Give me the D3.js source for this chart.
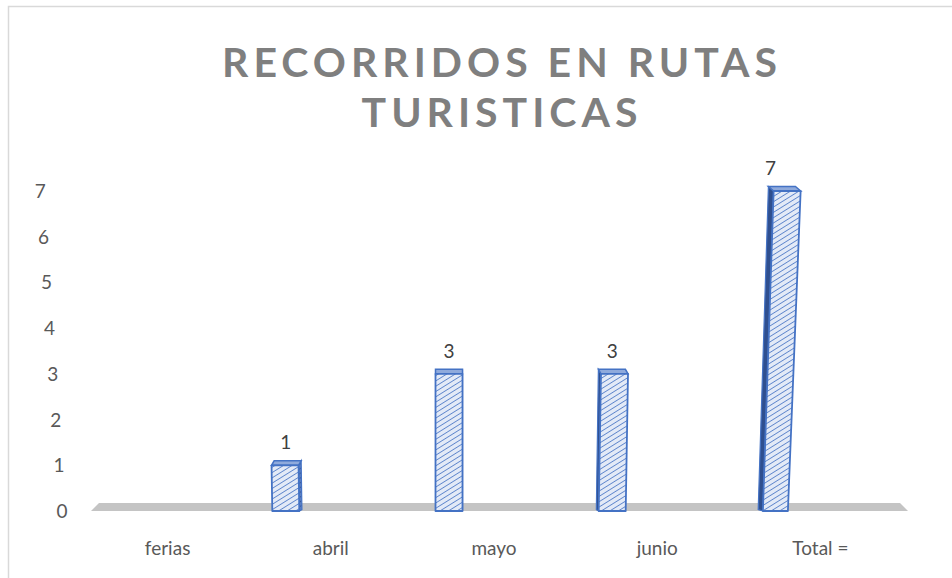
<!DOCTYPE html>
<html>
<head>
<meta charset="utf-8">
<script src="https://cdn.jsdelivr.net/npm/d3@7"></script>
<style>
  html, body { margin: 0; padding: 0; background: #fff; }
  svg { display: block; }
  text { font-family: "Lato", "Open Sans", sans-serif; }
</style>
</head>
<body>
<div id="chart"></div>
<script>
const titleLines = ["RECORRIDOS EN RUTAS", "TURISTICAS"];
const categories = ["ferias", "abril", "mayo", "junio", "Total ="];
const values = [null, 1, 3, 3, 7];
const yTicks = [0, 1, 2, 3, 4, 5, 6, 7];

const W = 952, H = 578;
const svg = d3.select("#chart").append("svg").attr("width", W).attr("height", H);

const defs = svg.append("defs");
const pat = defs.append("pattern").attr("id", "hatch").attr("patternUnits", "userSpaceOnUse")
  .attr("width", 4.5).attr("height", 4.5).attr("patternTransform", "rotate(58)");
pat.append("rect").attr("width", 4.5).attr("height", 4.5).attr("fill", "#e3eaf7");
pat.append("line").attr("x1", 0).attr("y1", 0).attr("x2", 0).attr("y2", 4.5)
  .attr("stroke", "#4472c4").attr("stroke-width", 1.5);
const pat2 = defs.append("pattern").attr("id", "hatchDark").attr("patternUnits", "userSpaceOnUse")
  .attr("width", 4).attr("height", 4).attr("patternTransform", "rotate(58)");
pat2.append("rect").attr("width", 4).attr("height", 4).attr("fill", "#5b7fc4");
pat2.append("line").attr("x1", 0).attr("y1", 0).attr("x2", 0).attr("y2", 4)
  .attr("stroke", "#2f4f8f").attr("stroke-width", 1.6);

// chart border
svg.append("rect").attr("x", 8.5).attr("y", 6.5).attr("width", 1000).attr("height", 1000)
  .attr("fill", "none").attr("stroke", "#d9d9d9").attr("stroke-width", 1.5);

// title
const title = svg.append("g");
title.selectAll("text").data(titleLines).join("text")
  .attr("x", 502).attr("y", (d, i) => 77 + i * 50)
  .attr("text-anchor", "middle")
  .attr("font-size", 41).attr("font-weight", 700)
  .attr("letter-spacing", 5)
  .attr("fill", "#7f7f7f")
  .text(d => d);

const x = d3.scaleBand().domain(categories).range([86, 902]).padding(0);
const y = d3.scaleLinear().domain([0, 7]).range([511, 191]);

// floor
svg.append("polygon")
  .attr("points", [[91, 511], [908, 511], [900, 503], [99, 503]].map(p => p.join(",")).join(" "))
  .attr("fill", "#c4c4c4");

// y tick labels (perspective lean)
svg.append("g").selectAll("text").data(yTicks).join("text")
  .attr("x", d => 62 - d * 3.1)
  .attr("y", d => y(d) + 7)
  .attr("text-anchor", "middle")
  .attr("font-size", 19).attr("fill", "#595959")
  .text(d => d);

// category labels
svg.append("g").selectAll("text").data(categories).join("text")
  .attr("x", d => x(d) + x.bandwidth() / 2)
  .attr("y", 555)
  .attr("text-anchor", "middle")
  .attr("font-size", 19).attr("fill", "#595959")
  .text(d => d);

// bars (3D look)
const bars = categories.map((c, i) => ({ c, v: values[i] })).filter(d => d.v !== null);
const g = svg.append("g");
bars.forEach(d => {
  const cx = x(d.c) + x.bandwidth() / 2 - 45;
  const isTotal = d.c === "Total =";
  const w = isTotal ? 25 : 27;
  const leanPerUnit = (cx - 449) * 0.0047;
  const lean = leanPerUnit * d.v;
  const ddx = -(cx - 449) * 0.016, ddy = -4.5;
  const y0 = y(0), y1 = y(d.v);
  const bl = [cx - w / 2, y0], br = [cx + w / 2, y0];
  const tl = [cx - w / 2 + lean, y1], tr = [cx + w / 2 + lean + (isTotal ? 2 : 0), y1];
  const pts = a => a.map(p => p.join(",")).join(" ");
  // side face
  if (ddx < 0) {
    g.append("polygon")
      .attr("points", pts([bl, tl, [tl[0] + ddx, tl[1] + ddy], [bl[0] + ddx * 0.9, bl[1] + ddy * 0.3]]))
      .attr("fill", "#2f4f8f").attr("stroke", "#4472c4").attr("stroke-width", 1.2);
  } else {
    g.append("polygon")
      .attr("points", pts([br, tr, [tr[0] + ddx, tr[1] + ddy], [br[0] + ddx, br[1] + ddy * 0.3]]))
      .attr("fill", "url(#hatchDark)").attr("stroke", "#4472c4").attr("stroke-width", 1.2);
  }
  // top face
  g.append("polygon")
    .attr("points", pts([tl, tr, [tr[0] + ddx, tr[1] + ddy], [tl[0] + ddx, tl[1] + ddy]]))
    .attr("fill", "#8faadc").attr("stroke", "#4472c4").attr("stroke-width", 1.5);
  // front face
  g.append("polygon")
    .attr("points", pts([bl, br, tr, tl]))
    .attr("fill", "url(#hatch)").attr("stroke", "#4472c4").attr("stroke-width", 1.8)
    .attr("stroke-linejoin", "round");
  // value label
  g.append("text")
    .attr("x", cx + (isTotal ? -5 : 0))
    .attr("y", y1 - 16)
    .attr("text-anchor", "middle")
    .attr("font-size", 19).attr("fill", "#404040")
    .text(d.v);
});
</script>
</body>
</html>
